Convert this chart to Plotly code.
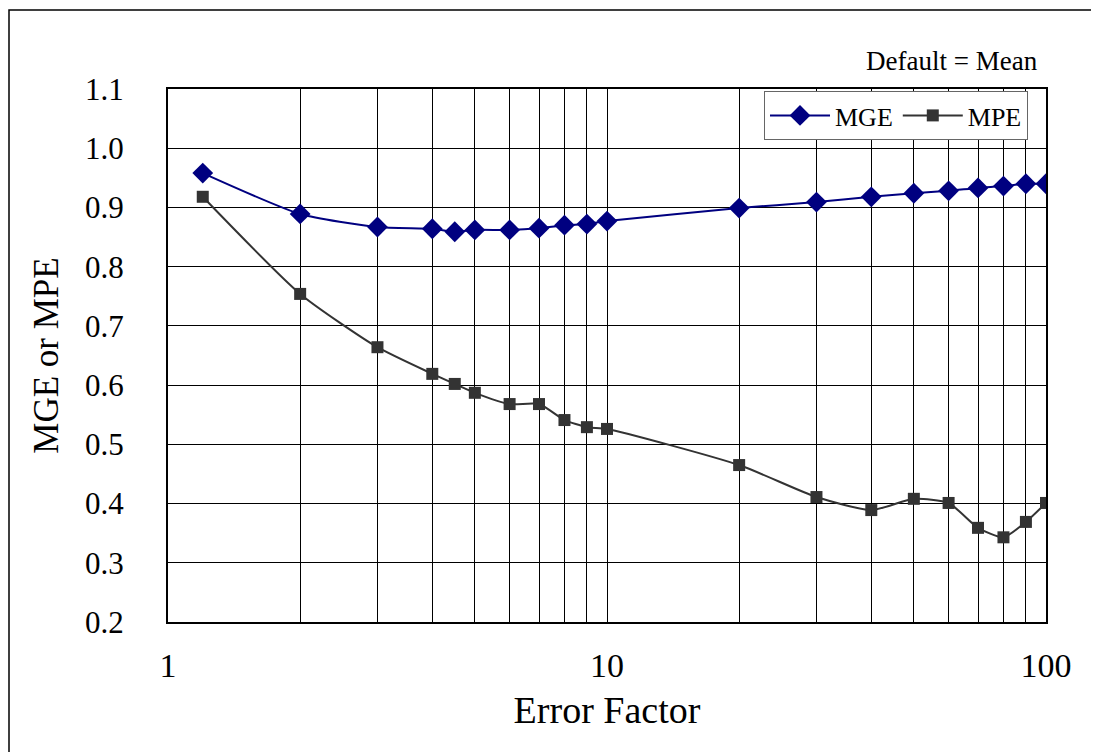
import plotly.graph_objects as go

error_factor = [1.2, 2, 3, 4, 4.5, 5, 6, 7, 8, 9, 10, 20, 30, 40, 50, 60, 70, 80, 90, 100]
mge = [0.958, 0.889, 0.867, 0.864, 0.859, 0.862, 0.862, 0.865, 0.870, 0.872, 0.877,
       0.899, 0.909, 0.918, 0.924, 0.928, 0.933, 0.936, 0.940, 0.940]
mpe = [0.918, 0.754, 0.664, 0.619, 0.602, 0.587, 0.568, 0.568, 0.541, 0.529, 0.526,
       0.465, 0.411, 0.389, 0.408, 0.401, 0.359, 0.343, 0.369, 0.401]
x_ticks = [1, 10, 100]
x_minor = [2, 3, 4, 5, 6, 7, 8, 9, 20, 30, 40, 50, 60, 70, 80, 90]

FONT = "Liberation Serif"

fig = go.Figure()
fig.add_trace(go.Scatter(
    x=error_factor, y=mge, name="MGE", mode="lines+markers",
    line=dict(color="#000080", width=2, shape="spline", smoothing=0.6),
    marker=dict(symbol="diamond", size=16, color="#000080"),
))
fig.add_trace(go.Scatter(
    x=error_factor, y=mpe, name="MPE", mode="lines+markers",
    line=dict(color="#333333", width=2, shape="spline", smoothing=0.6),
    marker=dict(symbol="square", size=12, color="#333333"),
))

# page body has an 8px margin; margins chosen so the plot area lands at 168..1046 x 89..622
fig.update_layout(
    width=1099, height=752,
    margin=dict(l=160, r=61, t=81, b=138),
    paper_bgcolor="white", plot_bgcolor="white",
    font=dict(family=FONT, color="black"),
    showlegend=True,
    legend=dict(
        orientation="h", x=(1028 - 168) / 878, xanchor="right", y=(622 - 91) / 533, yanchor="top",
        bgcolor="white", bordercolor="#666666", borderwidth=1,
        font=dict(size=26, family=FONT), tracegroupgap=0, itemwidth=60,
    ),
    xaxis=dict(
        type="log", range=[0, 2],
        tickvals=x_ticks, ticktext=[str(v) for v in x_ticks],
        tickfont=dict(size=34), ticks="", ticklabelstandoff=12,
        showgrid=True, gridcolor="black", gridwidth=1,
        minor=dict(tickvals=x_minor, showgrid=True, gridcolor="black", gridwidth=1, ticks=""),
        showline=True, linecolor="black", linewidth=2, mirror=True,
        title=dict(text="Error Factor", font=dict(size=38), standoff=14),
        zeroline=False,
    ),
    yaxis=dict(
        range=[0.2, 1.1], dtick=0.1, tick0=0.2, tickformat=".1f",
        tickfont=dict(size=31), ticks="", ticklabelstandoff=36,
        showgrid=True, gridcolor="black", gridwidth=1,
        showline=True, linecolor="black", linewidth=2, mirror=True,
        title=dict(text="MGE or MPE", font=dict(size=35), standoff=16),
        zeroline=False,
    ),
    annotations=[dict(
        text="Default = Mean", xref="paper", yref="paper",
        x=(1040 - 168) / 878, y=(622 - 61) / 533, xanchor="right", yanchor="middle",
        showarrow=False, font=dict(size=27, family=FONT),
    )],
    shapes=[dict(
        type="rect", xref="paper", yref="paper",
        x0=(9 - 168) / 878, x1=(1100 - 168) / 878,
        y0=(622 - 760) / 533, y1=(622 - 10) / 533,
        line=dict(color="black", width=1.5), fillcolor="rgba(0,0,0,0)", layer="below",
    )],
)

fig.write_html("out.html")
